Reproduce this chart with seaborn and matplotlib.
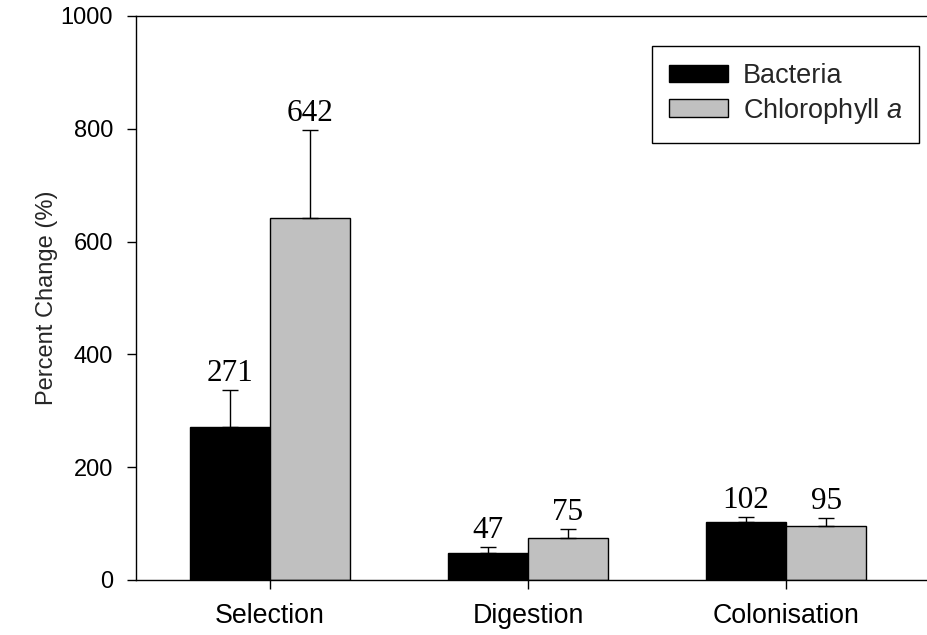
import matplotlib
matplotlib.use("Agg")
import matplotlib.pyplot as plt
import seaborn as sns
import pandas as pd
import numpy as np

# ---- data ----
categories = ["Selection", "Digestion", "Colonisation"]
series_names = ["Bacteria", "Chlorophyll a"]
bacteria = [271, 47, 102]
chlorophyll = [642, 75, 95]
bacteria_err = [66, 12, 10]
chlorophyll_err = [156, 16, 15]
y_ticks = [0, 200, 400, 600, 800, 1000]
legend_labels = ["Bacteria", "Chlorophyll $\\it{a}$"]

sns.set_style("white")
plt.rcParams["font.family"] = ["Liberation Sans", "DejaVu Sans"]
plt.rcParams["mathtext.fontset"] = "custom"
plt.rcParams["mathtext.rm"] = "Liberation Sans"
plt.rcParams["mathtext.it"] = "Liberation Sans:italic"

df = pd.DataFrame({
    "Category": categories * 2,
    "Series": [series_names[0]] * 3 + [series_names[1]] * 3,
    "Value": bacteria + chlorophyll,
})
errs = [bacteria_err, chlorophyll_err]
vals = [bacteria, chlorophyll]

fig = plt.figure(figsize=(9.28, 6.35), dpi=100)
ax = fig.add_axes([136 / 928, 1 - 580 / 635, (928 - 136) / 928, 564 / 635])

sns.barplot(data=df, x="Category", y="Value", hue="Series", order=categories,
            hue_order=series_names,
            palette={"Bacteria": "#000000", "Chlorophyll a": "#c0c0c0"},
            edgecolor="black", linewidth=1.0, width=0.62, gap=0,
            errorbar=None, legend=False, ax=ax, saturation=1)

bar_containers = list(ax.containers)
for ci, cont in enumerate(bar_containers):
    xs = [p.get_x() + p.get_width() / 2 for p in cont.patches]
    hs = [p.get_height() for p in cont.patches]
    e = errs[ci]
    ax.errorbar(xs, hs, yerr=[np.zeros(len(e)), e], fmt="none",
                ecolor="black", elinewidth=1.0, capsize=5.8, capthick=1.0,
                zorder=5)
    for x, h, err, v in zip(xs, hs, e, vals[ci]):
        ax.annotate(f"{v}", xy=(x, h + err), xytext=(0, 6.5),
                    textcoords="offset points", ha="center", va="baseline",
                    fontsize=22.5, family="Liberation Serif", color="black")

ax.set_ylim(0, 1000)
ax.set_xlim(-0.519, 2.55)
ax.set_yticks(y_ticks)
ax.set_yticklabels([str(t) for t in y_ticks])
ax.set_xlabel("")
ax.set_ylabel("Percent Change (%)", fontsize=17)
ax.yaxis.set_label_coords(-0.099, 0.5)

ax.tick_params(axis="both", which="major", direction="out", length=6.5,
               width=1.0, color="black", labelcolor="black")
ax.tick_params(axis="y", pad=10, left=True, labelsize=17)
ax.tick_params(axis="x", pad=10, bottom=True, labelsize=19.3)

for side in ["left", "top", "bottom"]:
    ax.spines[side].set_visible(True)
    ax.spines[side].set_color("black")
    ax.spines[side].set_linewidth(1.0)
ax.spines["right"].set_visible(False)

handles = [bar_containers[0].patches[0], bar_containers[1].patches[0]]
leg = ax.legend(handles, legend_labels, loc="upper right",
                bbox_to_anchor=(919 / 928, 1 - 46 / 635),
                bbox_transform=fig.transFigure, borderaxespad=0,
                fontsize=19.5, frameon=True, fancybox=False, shadow=False,
                framealpha=1, edgecolor="black", handlelength=2.2,
                handleheight=0.59, handletextpad=0.52, borderpad=0.63,
                labelspacing=0.24)
leg.get_frame().set_linewidth(1.0)

fig.savefig("out.png", dpi=100)
